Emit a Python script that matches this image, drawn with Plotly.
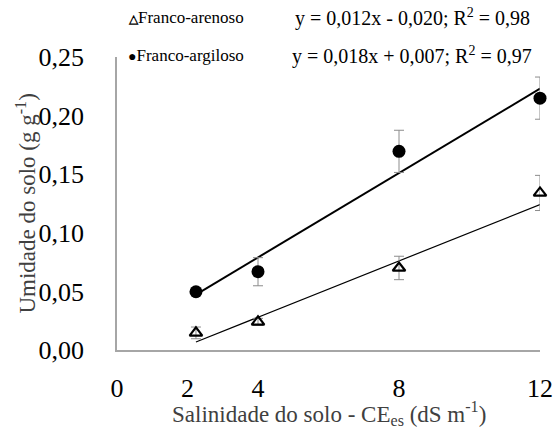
import plotly.graph_objects as go

# Data
salinity = [2.24, 4, 8, 12]
arenoso = [0.0146, 0.024, 0.070, 0.134]
arenoso_err = [0.005, 0.003, 0.010, 0.015]
argiloso = [0.0497, 0.0668, 0.1695, 0.2149]
argiloso_err = [0.002, 0.012, 0.018, 0.018]
fit_arenoso = (0.012, -0.020)
fit_argiloso = (0.018, 0.007)
eq_arenoso = "y = 0,012x - 0,020; R<sup>2</sup> = 0,98"
eq_argiloso = "y = 0,018x + 0,007; R<sup>2</sup> = 0,97"
x_ticks = [0, 2, 4, 8, 12]
y_ticks = [0, 0.05, 0.10, 0.15, 0.20, 0.25]

FONT = "Liberation Serif, Times New Roman, Times, serif"

fig = go.Figure()

xs_fit = [salinity[0], salinity[-1]]
fig.add_trace(go.Scatter(
    x=xs_fit, y=[fit_argiloso[0] * v + fit_argiloso[1] for v in xs_fit],
    mode="lines", line=dict(color="black", width=2), showlegend=False, cliponaxis=False))
fig.add_trace(go.Scatter(
    x=xs_fit, y=[fit_arenoso[0] * v + fit_arenoso[1] for v in xs_fit],
    mode="lines", line=dict(color="black", width=1.2), showlegend=False, cliponaxis=False))

fig.add_trace(go.Scatter(
    x=salinity, y=argiloso, mode="markers", name="Franco-argiloso",
    marker=dict(symbol="circle", size=13, color="black"),
    error_y=dict(type="data", array=argiloso_err, color="#8c8c8c", thickness=1, width=5),
    showlegend=False, cliponaxis=False))
fig.add_trace(go.Scatter(
    x=salinity, y=arenoso, mode="markers", name="Franco-arenoso",
    marker=dict(symbol="triangle-up-open", size=11, color="black", line=dict(width=2.2, color="black")),
    error_y=dict(type="data", array=arenoso_err, color="#8c8c8c", thickness=1, width=5),
    showlegend=False, cliponaxis=False))

annotations = [
    dict(text="<span style='font-size:12px;font-weight:bold'>\u25B3</span>Franco-arenoso",
         x=0.022, y=1.136, xanchor="left", yanchor="middle",
         font=dict(size=17, family=FONT, color="black")),
    dict(text="<span style='font-size:14px'>\u25CF</span>Franco-argiloso",
         x=0.022, y=1.006, xanchor="left", yanchor="middle",
         font=dict(size=17, family=FONT, color="black")),
    dict(text=eq_arenoso, x=0.415, y=1.136, xanchor="left", yanchor="middle",
         font=dict(size=20, family=FONT, color="black")),
    dict(text=eq_argiloso, x=0.41, y=1.006, xanchor="left", yanchor="middle",
         font=dict(size=20, family=FONT, color="black")),
    dict(text="Umidade do solo (g g<sup>-1</sup>)", x=-0.215, y=0.5, textangle=-90,
         xanchor="center", yanchor="middle",
         font=dict(size=23, family=FONT, color="#404040")),
    dict(text="Salinidade do solo - CE<sub>es</sub> (dS m<sup>-1</sup>)", x=0.5, y=-0.216,
         xanchor="center", yanchor="middle",
         font=dict(size=23, family=FONT, color="#404040")),
]
for a in annotations:
    a.update(xref="paper", yref="paper", showarrow=False)

fig.update_layout(
    width=556, height=427,
    margin=dict(l=117, r=16, t=57, b=77, autoexpand=False),
    plot_bgcolor="white", paper_bgcolor="white",
    separators=", ",
    font=dict(family=FONT, color="black"),
    annotations=annotations,
    xaxis=dict(
        range=[0, 12], tickvals=x_ticks, ticktext=[str(v) for v in x_ticks],
        showgrid=False, zeroline=False, showline=True, linecolor="#a6a6a6", linewidth=1.5,
        ticks="", ticklabelstandoff=14, automargin=False,
        tickfont=dict(size=26, family=FONT, color="black"),
    ),
    yaxis=dict(
        range=[0, 0.25], tickvals=y_ticks, tickformat=".2f",
        showgrid=False, zeroline=False, showline=True, linecolor="#a6a6a6", linewidth=1.5,
        ticks="", ticklabelstandoff=26, automargin=False,
        tickfont=dict(size=26, family=FONT, color="black"),
    ),
)

fig.write_html(
    "out.html",
    config={"displayModeBar": False},
    post_script="document.body.style.margin='0';document.body.style.overflow='hidden';",
)
